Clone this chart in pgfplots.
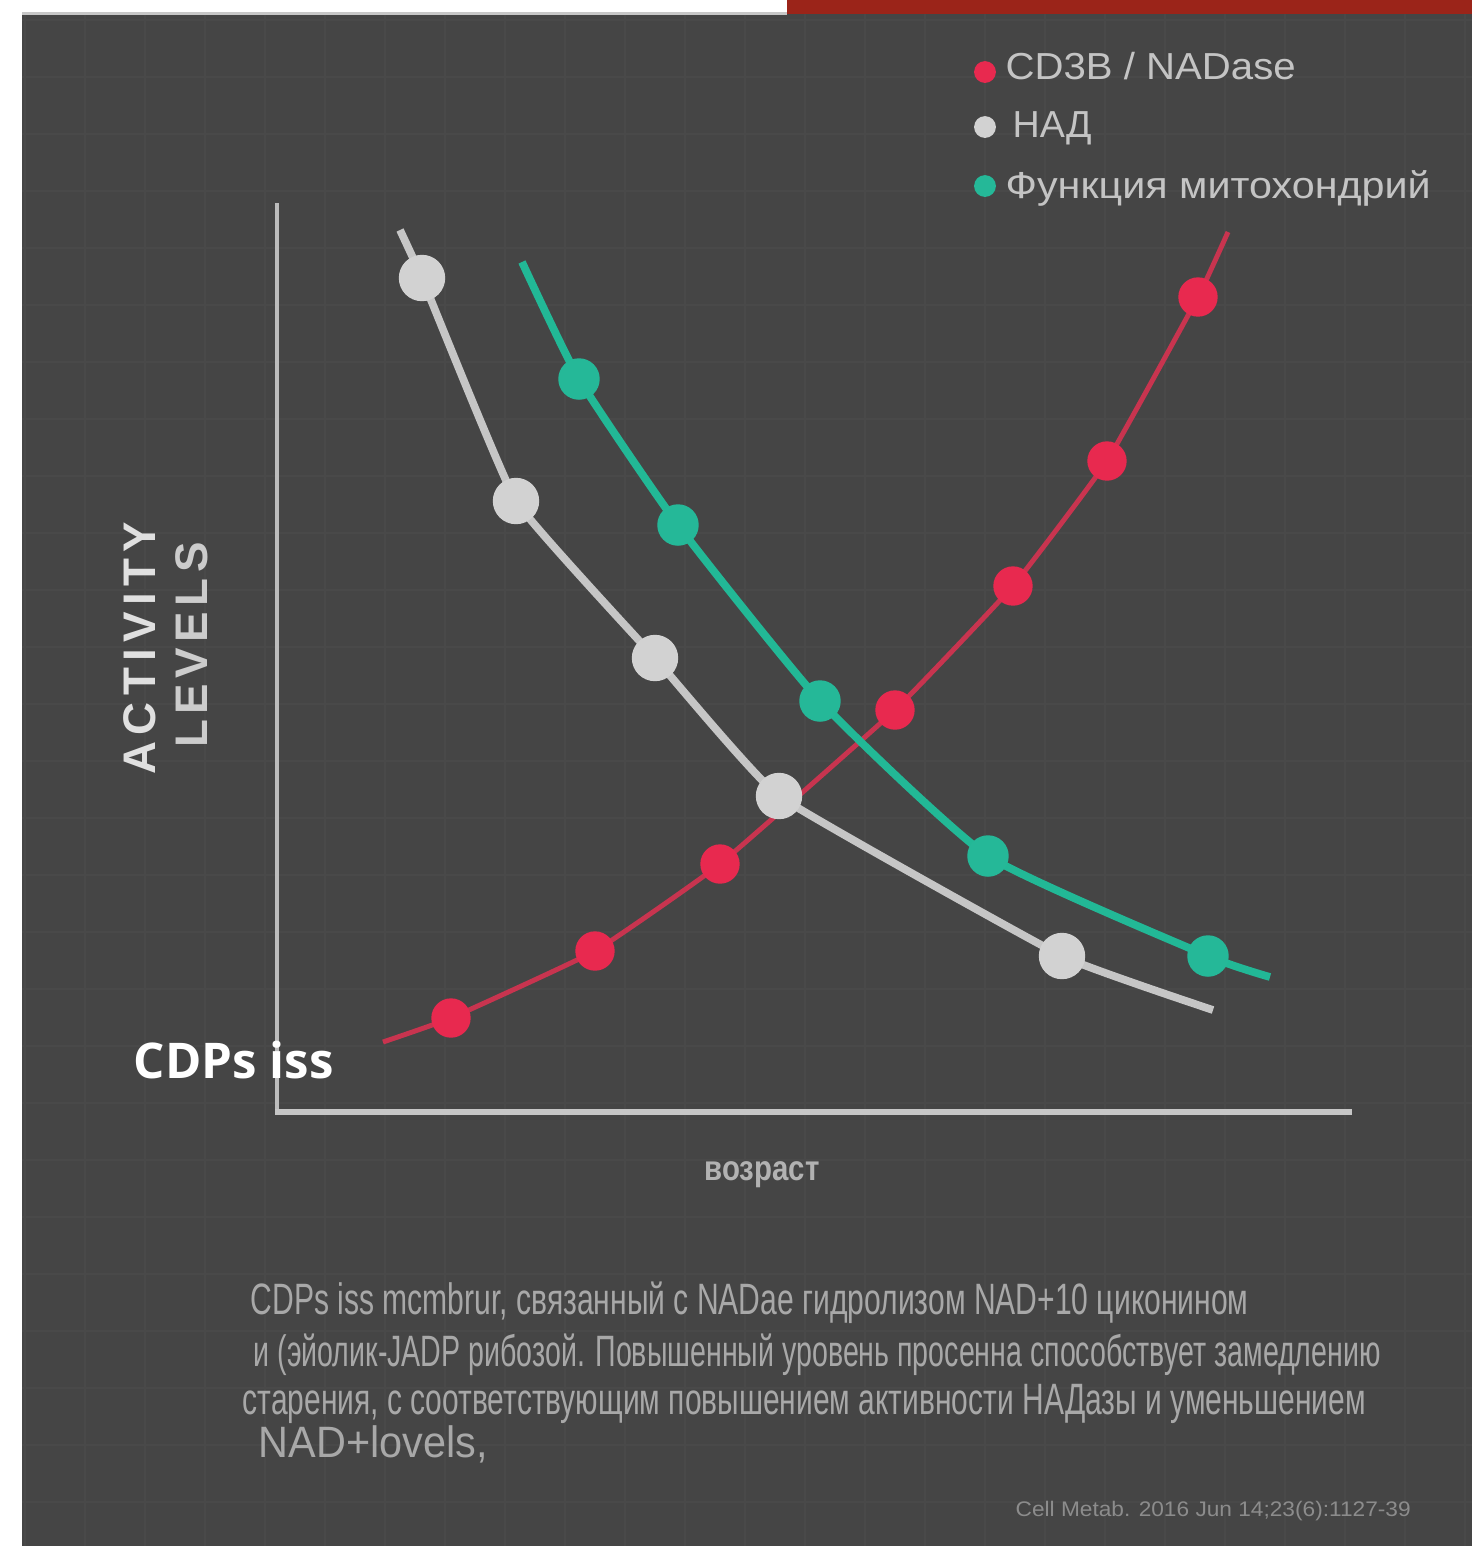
\documentclass[border=0pt]{standalone}
\usepackage{graphicx}
\usepackage{pgfplots}
\pgfplotsset{compat=1.18}
\usepackage{fontspec}
\setmainfont{Liberation Sans}
\newfontfamily\wmfont{Open Sans}
\newfontfamily\actfont[LetterSpace=14]{Liberation Sans}
\newfontfamily\lvlfont[LetterSpace=12]{Liberation Sans}
\definecolor{bg}{HTML}{454545}
\definecolor{gridc}{HTML}{494949}
\definecolor{redl}{HTML}{C8344F}
\definecolor{redm}{HTML}{E8294F}
\definecolor{greyl}{HTML}{C6C6C6}
\definecolor{greym}{HTML}{D2D2D2}
\definecolor{teall}{HTML}{22B896}
\definecolor{tealm}{HTML}{25B898}
\definecolor{txt}{HTML}{C4C4C4}
\definecolor{captc}{HTML}{A8A8A8}
\definecolor{topred}{HTML}{9B2419}
\begin{document}
\begin{tikzpicture}
\begin{axis}[
  name=ax,
  scale only axis, width=14.72cm, height=15.46cm,
  xmin=0, xmax=1472, ymin=0, ymax=1546, y dir=reverse,
  axis line style={draw=none}, tick style={draw=none},
  xtick={25,85,...,1465}, ytick={20,77,...,1540},
  xticklabels={}, yticklabels={},
  grid=major, major grid style={color=gridc, line width=0.2mm},
  axis background/.style={fill=bg},
  clip=false,
]
% frame strips
\fill[white] (axis cs:0,0) rectangle (axis cs:787,12);
\fill[white!78!black] (axis cs:22,12) rectangle (axis cs:787,15);
\fill[topred] (axis cs:787,0) rectangle (axis cs:1472,14);
\fill[white] (axis cs:0,0) rectangle (axis cs:22,1546);
% axis L lines
\draw[color=greyl!95!black, line width=0.4mm] (axis cs:277,203) -- (axis cs:277,1114);
\draw[color=greyl, line width=0.6mm] (axis cs:275,1112) -- (axis cs:1352,1112);

% lines
\addplot[redl, line width=1.4pt, smooth, tension=0.2] coordinates {(383,1042)(451,1018)(595,951)(720,864)(895,710)(1013,586)(1107,461)(1198,297)(1228,232)};
\addplot[greyl, line width=2.2pt, smooth, tension=0.2] coordinates {(400,230)(422,278)(516,501)(655,658)(779,796)(1062,956)(1213,1010)};
\addplot[teall, line width=2.2pt, smooth, tension=0.3] coordinates {(522,262)(579,379)(678,525)(820,701)(988,856)(1208,956)(1270,977)};
% markers
\addplot[only marks, mark=*, mark size=5.4pt, mark options={fill=redm, draw=redm}] coordinates {(451,1018)(595,951)(720,864)(895,710)(1013,586)(1107,461)(1198,297)};
\addplot[only marks, mark=*, mark size=6.4pt, mark options={fill=greym, draw=greym}] coordinates {(422,278)(516,501)(655,658)(779,796)(1062,956)};
\addplot[only marks, mark=*, mark size=5.7pt, mark options={fill=tealm, draw=tealm}] coordinates {(579,379)(678,525)(820,701)(988,856)(1208,956)};

% legend
\addplot[only marks, mark=*, mark size=2.9pt, mark options={fill=redm, draw=redm}] coordinates {(985,72)};
\addplot[only marks, mark=*, mark size=2.9pt, mark options={fill=greym, draw=greym}] coordinates {(985,127)};
\addplot[only marks, mark=*, mark size=2.9pt, mark options={fill=tealm, draw=tealm}] coordinates {(985,186)};
\node[anchor=base west, inner sep=0, text=txt] at (axis cs:1005,79) {\resizebox{2.9cm}{\height}{\fontsize{10.7pt}{12pt}\selectfont CD3B / NADase}};
\node[anchor=base west, inner sep=0, text=txt] at (axis cs:1012,137) {\fontsize{10.7pt}{12pt}\selectfont НАД};
\node[anchor=base west, inner sep=0, text=txt] at (axis cs:1005,198) {\resizebox{4.25cm}{\height}{\fontsize{10.7pt}{12pt}\selectfont Функция митохондрий}};

% y label
\node[rotate=90, inner sep=0, text=white!88!black] at (axis cs:140,648) {\fontsize{13pt}{15pt}\selectfont\actfont\bfseries ACTIVITY};
\node[rotate=90, inner sep=0, text=white!80!black] at (axis cs:192,645) {\fontsize{13pt}{15pt}\selectfont\lvlfont\bfseries LEVELS};

% x label
\node[inner sep=0, text=white!70!black] at (axis cs:762,1175) {\resizebox{1.15cm}{\height}{\fontsize{10pt}{12pt}\selectfont\bfseries возраст}};

% watermark
\node[anchor=base west, inner sep=0, text=white] at (axis cs:133,1078) {\fontsize{14pt}{16pt}\selectfont\wmfont\bfseries CDPs iss};

% caption
\node[anchor=base west, inner sep=0, text=captc] at (axis cs:250,1314) {\resizebox{9.98cm}{\height}{\fontsize{12.5pt}{14pt}\selectfont CDPs iss mcmbrur, связанный с NADae гидролизом NAD+10 циконином}};
\node[anchor=base west, inner sep=0, text=captc] at (axis cs:253,1366) {\resizebox{11.27cm}{\height}{\fontsize{12.5pt}{14pt}\selectfont и (эйолик-JADP рибозой. Повышенный уровень просенна способствует замедлению}};
\node[anchor=base west, inner sep=0, text=captc] at (axis cs:242,1414) {\resizebox{11.23cm}{\height}{\fontsize{12.5pt}{14pt}\selectfont старения, с соответствующим повышением активности НАДазы и уменьшением}};
\node[anchor=base west, inner sep=0, text=captc] at (axis cs:258,1457) {\resizebox{2.29cm}{\height}{\fontsize{12.5pt}{14pt}\selectfont NAD+lovels,}};

% footnote
\node[anchor=base west, inner sep=0, text=white!55!black] at (axis cs:1015,1516) {\resizebox{3.95cm}{\height}{\fontsize{6pt}{7pt}\selectfont Cell Metab. 2016 Jun 14;23(6):1127-39}};
\end{axis}
\pgfresetboundingbox
\path[use as bounding box] (ax.south west) rectangle (ax.north east);
\end{tikzpicture}
\end{document}
